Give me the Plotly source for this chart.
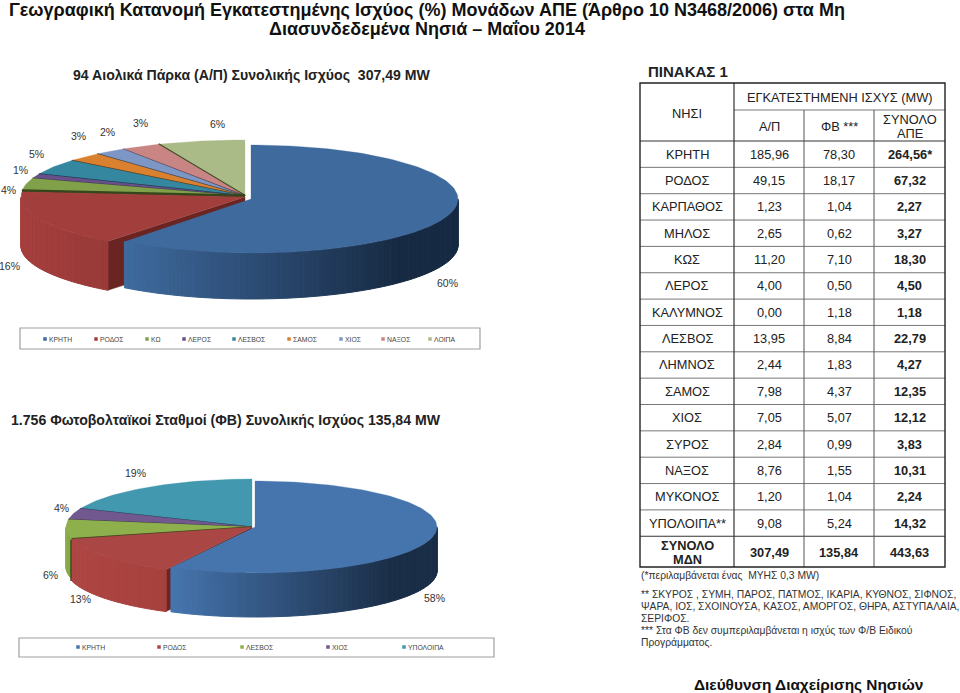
import math
import plotly.graph_objects as go

# ---------- data ----------
wind_names = ["ΚΡΗΤΗ", "ΡΟΔΟΣ", "ΚΩ", "ΛΕΡΟΣ", "ΛΕΣΒΟΣ", "ΣΑΜΟΣ", "ΧΙΟΣ", "ΝΑΞΟΣ", "ΛΟΙΠΑ"]
wind_values = [185.96, 49.15, 11.20, 4.00, 13.95, 7.98, 7.05, 8.76, 19.44]
wind_labels = ["60%", "16%", "4%", "1%", "5%", "3%", "2%", "3%", "6%"]

pv_names = ["ΚΡΗΤΗ", "ΡΟΔΟΣ", "ΛΕΣΒΟΣ", "ΧΙΟΣ", "ΥΠΟΛΟΙΠΑ"]
pv_values = [78.30, 18.17, 8.84, 5.07, 25.46]
pv_labels = ["58%", "13%", "6%", "4%", "19%"]

table_islands = ["ΚΡΗΤΗ", "ΡΟΔΟΣ", "ΚΑΡΠΑΘΟΣ", "ΜΗΛΟΣ", "ΚΩΣ", "ΛΕΡΟΣ", "ΚΑΛΥΜΝΟΣ", "ΛΕΣΒΟΣ",
                 "ΛΗΜΝΟΣ", "ΣΑΜΟΣ", "ΧΙΟΣ", "ΣΥΡΟΣ", "ΝΑΞΟΣ", "ΜΥΚΟΝΟΣ", "ΥΠΟΛΟΙΠΑ**"]
table_ap = ["185,96", "49,15", "1,23", "2,65", "11,20", "4,00", "0,00", "13,95",
            "2,44", "7,98", "7,05", "2,84", "8,76", "1,20", "9,08"]
table_fv = ["78,30", "18,17", "1,04", "0,62", "7,10", "0,50", "1,18", "8,84",
            "1,83", "4,37", "5,07", "0,99", "1,55", "1,04", "5,24"]
table_total = ["264,56*", "67,32", "2,27", "3,27", "18,30", "4,50", "1,18", "22,79",
               "4,27", "12,35", "12,12", "3,83", "10,31", "2,24", "14,32"]
table_sum = ["307,49", "135,84", "443,63"]

# ---------- style / layout ----------
FONT = "Liberation Sans, Arial, sans-serif"
wind_colors = ["#3E6A9D", "#A23F3D", "#80A04A", "#67508A", "#35869F", "#D9812F", "#7C97C5", "#C98583", "#ABBB87"]
pv_colors = ["#4675AE", "#AA4643", "#8DB04D", "#71588F", "#4198AF"]

fig = go.Figure()
annots = []
shapes = []


def text(x, y, s, size=12, bold=False, anchor="center", color="#222222"):
    annots.append(dict(x=x, y=y, xref="x", yref="y", text=s, showarrow=False, xanchor=anchor,
                       yanchor="middle", align=anchor if anchor != "middle" else "center",
                       font=dict(family=FONT, size=size, color=color,
                                 weight="bold" if bold else "normal"),
                       borderpad=0))


def poly(xs, ys, color, lw=0.4):
    fig.add_trace(go.Scatter(x=xs + xs[:1], y=ys + ys[:1], mode="lines", fill="toself",
                             fillcolor=color, line=dict(color=color, width=lw),
                             hoverinfo="skip", showlegend=False))


def seg(xs, ys, color, lw):
    fig.add_trace(go.Scatter(x=xs, y=ys, mode="lines", line=dict(color=color, width=lw),
                             hoverinfo="skip", showlegend=False))


def hex2(c):
    return [int(c[i:i + 2], 16) for i in (1, 3, 5)]


def lerp(c1, c2, t):
    a, b = hex2(c1), hex2(c2)
    return "#%02x%02x%02x" % tuple(round(a[i] + (b[i] - a[i]) * t) for i in range(3))


def pie3d(values, colors, geom, walls, sep_colors, faces):
    """values -> clockwise slice angles from 12 o'clock, drawn as elliptical sectors."""
    total = sum(values)
    angs = [0.0]
    for v in values:
        angs.append(angs[-1] + v / total * 360)

    def arc(g, a0, a1, dy=0, step=1.5):
        cx, cy, a, b = g
        n = max(2, int(abs(a1 - a0) / step) + 1)
        xs, ys = [], []
        for k in range(n + 1):
            t = math.radians(a0 + (a1 - a0) * k / n)
            xs.append(cx + a * math.sin(t))
            ys.append(cy - b * math.cos(t) + dy)
        return xs, ys

    # back-to-front: last slice first, the first (front) slice at the end
    for i in range(len(values) - 1, -1, -1):
        g = geom[i]
        a0, a1 = angs[i], angs[i + 1]
        h = g[4]
        gg = g[:4]
        # radial wall of the slice's leading edge
        if i in faces:
            ax, ay = arc(gg, a0, a0)
            px, py = ax[0], ay[0]
            poly([gg[0], px, px, gg[0]], [gg[1], py, py + h, gg[1] + h], faces[i])
        # outer wall
        lo, hi = max(a0, 90), min(a1, 270)
        if hi > lo and i in walls:
            c1, c2, xl, xr = walls[i]
            n = int((hi - lo) / 1.2) + 1
            for k in range(n):
                t0 = lo + (hi - lo) * k / n
                t1 = lo + (hi - lo) * (k + 1) / n
                xs, ys = arc(gg, t0, t1, step=1)
                xm = sum(xs) / len(xs)
                col = lerp(c1, c2, min(1, max(0, (xm - xl) / (xr - xl))))
                poly(xs + xs[::-1], ys + [y + h for y in ys[::-1]], col, 1.0)
        # top
        xs, ys = arc(gg, a0, a1)
        poly([gg[0]] + xs, [gg[1]] + ys, colors[i], 0.3)
        # dark separator on leading edge
        if sep_colors[i]:
            seg([gg[0], xs[0]], [gg[1], ys[0]], sep_colors[i][0], sep_colors[i][1])


# ---------- chart 1 ----------
small1 = (245, 196, 224, 56, 47)
geom1 = [(251, 199, 207, 54, 46), (245, 197, 224, 56, 49)] + [small1] * 7
walls1 = {0: ("#3F6B9F", "#172A43", 124, 400),
          1: ("#A53F3D", "#973A38", 21, 110)}
sep1 = [None, None,
        ("#35451C", 3.0), ("#2C2140", 1.2), ("#143C4A", 1.6),
        ("#5F3612", 1.6), ("#2F3C58", 1.4), ("#4F3533", 1.4), ("#3C4A22", 2.6)]
faces1 = {1: "#6A2522"}
pie3d(wind_values, wind_colors, geom1, walls1, sep1, faces1)

# ---------- chart 2 ----------
small2 = (252, 527, 186, 48, 42)
geom2 = [(255, 527, 182, 46, 44), (252, 527, 186, 48, 42), (252, 527, 186, 48, 40), small2, small2]
walls2 = {0: ("#4675AE", "#1A2E47", 172, 390),
          1: ("#AE4643", "#A6413E", 70, 165),
          2: ("#8DB04D", "#80A044", 65, 72)}
sep2 = [None, None, ("#39481C", 1.6), ("#2C2140", 1.0), ("#143C4A", 1.2)]
faces2 = {1: "#6E2522"}
pie3d(pv_values, pv_colors, geom2, walls2, sep2, faces2)
seg([71, 71], [540, 581], "#39481C", 1.4)

# ---------- percentage labels ----------
wind_lab_x = [447, 9, 8, 20, 36, 78, 107, 140, 217]
wind_lab_y = [283, 266, 190, 170, 154, 136, 132, 123, 124]
pv_lab_x = [434, 80, 50, 61, 135]
pv_lab_y = [598, 599, 575, 508, 473]
for x, y, s in zip(wind_lab_x, wind_lab_y, wind_labels):
    text(x, y, s, 10.5, color="#333333")
for x, y, s in zip(pv_lab_x, pv_lab_y, pv_labels):
    text(x, y, s, 10.5, color="#333333")

# ---------- legends ----------
def legend(names, colors, xs, y, box):
    shapes.append(dict(type="rect", xref="x", yref="y", x0=box[0], x1=box[1], y0=box[2], y1=box[3],
                       line=dict(color="#A0A0A0", width=1.2), fillcolor="rgba(0,0,0,0)"))
    fig.add_trace(go.Scatter(x=xs, y=[y] * len(xs), mode="markers",
                             marker=dict(symbol="square", size=3.5, color=colors),
                             hoverinfo="skip", showlegend=False))
    for x, n in zip(xs, names):
        text(x + 3, y, n, 6.8, anchor="left", color="#444444")


legend(wind_names, wind_colors, [45, 96, 147, 184, 234, 289, 341, 383, 430], 339, (20, 480, 328, 349))
legend(pv_names, pv_colors, [78, 159, 242, 328, 404], 647, (19, 494, 638, 657))

# ---------- titles ----------
text(427, 10, "Γεωγραφική Κατανομή Εγκατεστημένης Ισχύος (%) Μονάδων ΑΠΕ (Άρθρο 10 Ν3468/2006) στα Μη", 18, True, color="#111111")
text(427, 29, "Διασυνδεδεμένα Νησιά – Μαΐου 2014", 18, True, color="#111111")
text(252, 75, "94 Αιολικά Πάρκα (Α/Π) Συνολικής Ισχύος  307,49 MW", 14.1, True, color="#222222")
text(226, 420, "1.756 Φωτοβολταϊκοί Σταθμοί (ΦΒ) Συνολικής Ισχύος 135,84 MW", 14.1, True, color="#222222")
text(647, 71, "ΠΙΝΑΚΑΣ 1", 15, True, anchor="left", color="#222222")

# ---------- table ----------
col_x = [640, 734, 804, 874, 945]
top, head1, head2 = 83, 110, 141
row_h = 26.35
n_rows = len(table_islands)
bottom = 567


def hline(x0, x1, y, color="#777777", w=1):
    shapes.append(dict(type="line", xref="x", yref="y", x0=x0, x1=x1, y0=y, y1=y, line=dict(color=color, width=w)))


def vline(x, y0, y1, color="#333333", w=1.2):
    shapes.append(dict(type="line", xref="x", yref="y", x0=x, x1=x, y0=y0, y1=y1, line=dict(color=color, width=w)))


hline(col_x[1], col_x[4], head1)
hline(col_x[0], col_x[4], head2, "#333333", 1.2)
for r in range(1, n_rows + 1):
    hline(col_x[0], col_x[4], head2 + r * row_h, "#777777" if r < n_rows else "#333333", 1 if r < n_rows else 1.2)
vline(col_x[1], top, bottom)
vline(col_x[2], head1, bottom, "#555555", 1)
vline(col_x[3], head1, bottom, "#555555", 1)
shapes.append(dict(type="rect", xref="x", yref="y", x0=col_x[0], x1=col_x[4], y0=top, y1=bottom,
                   line=dict(color="#222222", width=1.4), fillcolor="rgba(0,0,0,0)"))

TS = 12.8
cx = [(col_x[i] + col_x[i + 1]) / 2 for i in range(4)]
text(cx[0], 113, "ΝΗΣΙ", TS)
text((col_x[1] + col_x[4]) / 2, 97, "ΕΓΚΑΤΕΣΤΗΜΕΝΗ ΙΣΧΥΣ (MW)", TS)
text(cx[1], 126, "Α/Π", TS)
text(cx[2], 126, "ΦΒ ***", TS)
text(cx[3], 119, "ΣΥΝΟΛΟ", TS)
text(cx[3], 133, "ΑΠΕ", TS)
for r in range(n_rows):
    y = head2 + (r + 0.5) * row_h
    text(cx[0], y, table_islands[r], TS)
    text(cx[1], y, table_ap[r], TS)
    text(cx[2], y, table_fv[r], TS)
    text(cx[3], y, table_total[r], TS, True)
text(cx[0], 545, "ΣΥΝΟΛΟ", TS, True)
text(cx[0], 559, "ΜΔΝ", TS, True)
for i, s in enumerate(table_sum):
    text(cx[i + 1], 552, s, TS, True)

# ---------- notes ----------
notes = [(575, "(*περιλαμβάνεται ένας  ΜΥΗΣ 0,3 MW)"),
         (594, "** ΣΚΥΡΟΣ , ΣΥΜΗ, ΠΑΡΟΣ, ΠΑΤΜΟΣ, ΙΚΑΡΙΑ, ΚΥΘΝΟΣ, ΣΙΦΝΟΣ,"),
         (606, "ΨΑΡΑ, ΙΟΣ, ΣΧΟΙΝΟΥΣΑ, ΚΑΣΟΣ, ΑΜΟΡΓΟΣ, ΘΗΡΑ, ΑΣΤΥΠΑΛΑΙΑ,"),
         (618, "ΣΕΡΙΦΟΣ."),
         (630, "*** Στα ΦΒ δεν συμπεριλαμβάνεται η ισχύς των Φ/Β Ειδικού"),
         (642, "Προγράμματος.")]
for y, s in notes:
    text(640, y, s, 10.3, anchor="left", color="#333333")
text(808, 684, "Διεύθυνση Διαχείρισης Νησιών", 15.4, True, color="#111111")

fig.update_layout(width=960, height=693, margin=dict(l=0, r=0, t=0, b=0),
                  paper_bgcolor="white", plot_bgcolor="white", showlegend=False,
                  xaxis=dict(range=[0, 960], visible=False, fixedrange=True),
                  yaxis=dict(range=[693, 0], visible=False, fixedrange=True),
                  annotations=annots, shapes=shapes)
fig.write_html("out.html", config={"displayModeBar": False},
               post_script="document.body.style.margin='0';document.body.style.overflow='hidden';")
